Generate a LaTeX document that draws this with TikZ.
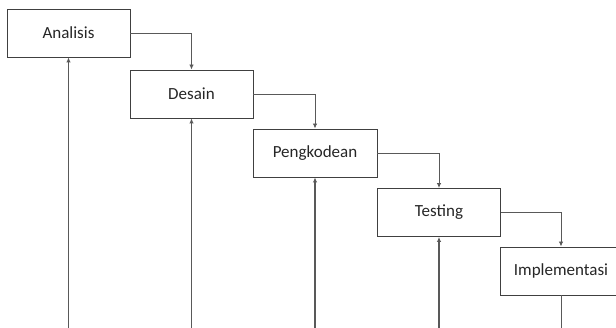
\documentclass[tikz,border=0pt]{standalone}
\usepackage{fontspec}
\setmainfont{Carlito}
\usetikzlibrary{arrows.meta}
\begin{document}
\begin{tikzpicture}[x=1pt,y=-1pt,
  stage/.style={draw=black!75,line width=0.9pt,minimum width=123pt,minimum height=48pt,inner sep=0pt,font=\fontsize{17}{20}\selectfont,text=black!85},
  flow/.style={draw=black!65,line width=0.9pt,-{Latex[length=5pt,width=4.5pt]}},
  back/.style={draw=black!65,line width=1.1pt,-{Latex[length=5pt,width=4.5pt]}}]
\useasboundingbox (0,0) rectangle (616,328);
\node[stage] (a) at (68.5,33) {Analisis};
\node[stage] (b) at (191.5,94) {Desain};
\node[stage,minimum width=124pt] (c) at (315,153) {Pengkodean};
\node[stage] (d) at (439,212.5) {Testing};
\node[stage,minimum width=122pt] (e) at (561,271) {Implementasi};
\draw[flow] (a.east) -| (b.north);
\draw[flow] (b.east) -| (c.north);
\draw[flow] (c.east) -| (d.north);
\draw[flow] (d.east) -| (e.north);
\coordinate (pa) at (68.5,330);
\coordinate (pb) at (191.5,330);
\coordinate (pc) at (315,330);
\coordinate (pd) at (439,330);
\coordinate (pe) at (561,330);
\draw[back] (pa) -- (a.south);
\draw[back] (pb) -- (b.south);
\draw[back] (pc) -- (c.south);
\draw[back] (pd) -- (d.south);
\draw[draw=black!65,line width=0.9pt] (e.south) -- (pe);
\end{tikzpicture}
\end{document}
